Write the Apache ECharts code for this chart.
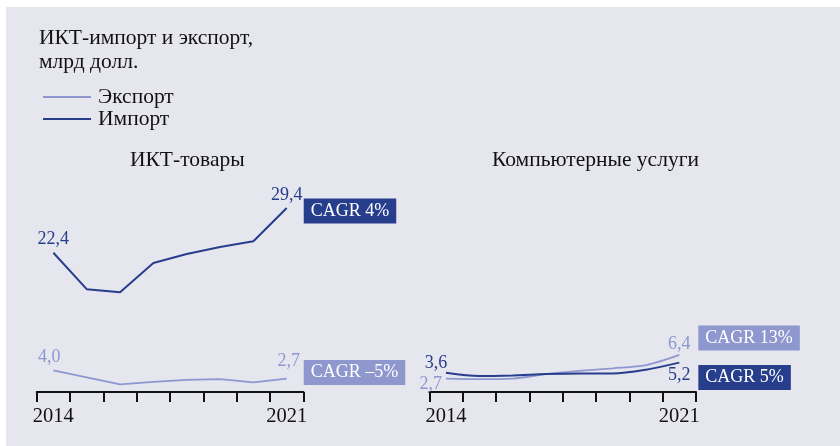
<!DOCTYPE html>
<html>
<head>
<meta charset="utf-8">
<script src="https://cdn.jsdelivr.net/npm/echarts@6/dist/echarts.min.js"></script>
<style>
  html, body { margin: 0; padding: 0; background: #fff; }
  #bg { position: absolute; left: 6px; top: 7px; width: 834px; height: 439px; background: #e6e6ef; }
  #main { position: absolute; left: 0; top: 0; width: 840px; height: 446px; }
</style>
</head>
<body>
<div id="bg"></div>
<div id="main"></div>
<script>
var years = ['2014', '2015', '2016', '2017', '2018', '2019', '2020', '2021'];
// ИКТ-товары, млрд долл.
var goodsExport = [4.0, 2.9, 1.8, 2.2, 2.5, 2.6, 2.1, 2.7];
var goodsImport = [22.4, 16.7, 16.2, 20.8, 22.2, 23.3, 24.2, 29.4];
// Компьютерные услуги, млрд долл.
var servExport = [2.7, 2.6, 2.7, 3.4, 3.9, 4.3, 4.8, 6.4];
var servImport = [3.6, 3.1, 3.2, 3.4, 3.5, 3.5, 4.1, 5.2];
// подписи CAGR: экспорт товаров, импорт товаров, экспорт услуг, импорт услуг
var cagrLabels = ['CAGR –5%', 'CAGR 4%', 'CAGR 13%', 'CAGR 5%'];

var FONT = "'Liberation Serif', 'Times New Roman', serif";
var DARK = '#263e8c';
var LIGHT = '#8e98cf';

function fmt(v) {
  return v.toFixed(1).replace('.', ',');
}

// подписи значений только у первой и последней точки
function withLabels(vals, color, first, last) {
  return vals.map(function (v, i) {
    var lb = i === 0 ? first : (i === vals.length - 1 ? last : null);
    if (!lb) return v;
    return {
      value: v,
      label: Object.assign({show: true, formatter: fmt(v), color: color, fontSize: 18, fontFamily: FONT}, lb)
    };
  });
}

function line(name, vals, color, width, gi, smooth, first, last, cagr, dist, dy) {
  return {
    name: name,
    type: 'line',
    xAxisIndex: gi,
    yAxisIndex: gi,
    data: withLabels(vals, color, first, last),
    smooth: smooth,
    symbol: 'circle',
    symbolSize: 0,
    lineStyle: {color: color, width: width},
    itemStyle: {color: color},
    endLabel: {
      show: true, formatter: cagr, color: '#fff', backgroundColor: color,
      fontSize: 18, fontFamily: FONT, padding: [4, 7, 3, 7],
      distance: dist, offset: [0, dy]
    },
    emphasis: {disabled: true}
  };
}

function xAxis(gi) {
  return {
    type: 'category',
    gridIndex: gi,
    data: years,
    boundaryGap: true,
    axisLine: {onZero: false, lineStyle: {color: '#111', width: 2}},
    axisTick: {show: true, interval: 0, length: 10, lineStyle: {color: '#111', width: 2}},
    axisLabel: {
      interval: function (i) { return i === 0 || i === years.length - 1; },
      color: '#111', fontSize: 20.5, fontFamily: FONT, margin: 14
    },
    splitLine: {show: false}
  };
}

// ось x стоит чуть выше нуля, поэтому min не 0
function yAxis(gi) {
  return {type: 'value', gridIndex: gi, min: 0.6, max: 31.2, show: false};
}

var titleStyle = {fontFamily: FONT, fontSize: 21.5, fontWeight: 'normal', color: '#111', lineHeight: 23.5};

var chart = echarts.init(document.getElementById('main'));
chart.setOption({
  animation: false,
  textStyle: {fontFamily: FONT},
  title: [
    {text: 'ИКТ-импорт и экспорт,\nмлрд долл.', left: 39, top: 27, padding: 0, textStyle: titleStyle},
    {text: 'ИКТ-товары', left: 130, top: 149, padding: 0, textStyle: titleStyle},
    {text: 'Компьютерные услуги', left: 492, top: 149, padding: 0, textStyle: titleStyle}
  ],
  legend: {
    data: ['Экспорт', 'Импорт'],
    orient: 'vertical',
    left: 43,
    top: 86,
    padding: 0,
    icon: 'rect',
    itemWidth: 48,
    itemHeight: 2,
    itemGap: 0,
    selectedMode: false,
    textStyle: {fontFamily: FONT, fontSize: 21.5, lineHeight: 22, color: '#111', padding: [0, 0, 0, 2]}
  },
  grid: [
    {left: 36.7, width: 266.7, top: 196.5, bottom: 54},
    {left: 429.3, width: 266.7, top: 196.5, bottom: 54}
  ],
  xAxis: [xAxis(0), xAxis(1)],
  yAxis: [yAxis(0), yAxis(1)],
  series: [
    line('Экспорт', goodsExport, LIGHT, 1.8, 0, false,
      {position: 'top', distance: 4, offset: [-4, 0]},
      {position: 'top', distance: 8, offset: [2, 0]},
      cagrLabels[0], 17, -6),
    line('Импорт', goodsImport, DARK, 2, 0, false,
      {position: 'top', distance: 4},
      {position: 'top', distance: 4},
      cagrLabels[1], 17, 3),
    line('Экспорт', servExport, LIGHT, 1.8, 1, 0.3,
      {position: 'left', distance: 4, offset: [0, 6]},
      {position: 'top', distance: 2},
      cagrLabels[2], 19, -17),
    line('Импорт', servImport, DARK, 2, 1, 0.3,
      {position: 'top', distance: 1, offset: [-10, 0]},
      {position: 'bottom', distance: 4},
      cagrLabels[3], 19, 15)
  ]
});
</script>
</body>
</html>
